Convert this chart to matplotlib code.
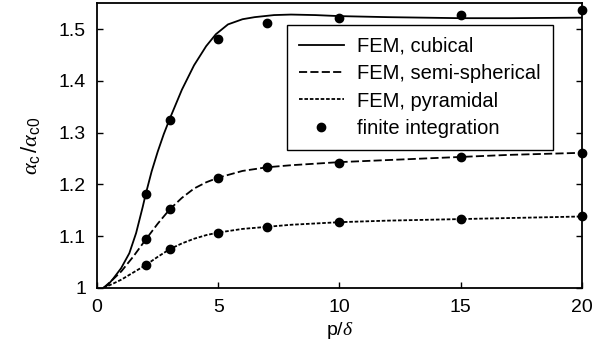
import numpy as np
import matplotlib
matplotlib.use("Agg")
import matplotlib.pyplot as plt

plt.rcParams['font.family'] = ['Liberation Sans', 'DejaVu Sans']
plt.rcParams['mathtext.fontset'] = 'custom'
plt.rcParams['mathtext.rm'] = 'Liberation Sans'
plt.rcParams['mathtext.it'] = 'Liberation Serif:italic'
plt.rcParams['mathtext.sf'] = 'Liberation Sans'

# FEM curves
p_cub = [0.26, 0.45, 0.65, 0.99, 1.33, 1.61, 1.88, 2.0, 2.25, 2.5, 2.75, 3.0, 3.5, 4.0,
         4.5, 4.9, 5.4, 6.0, 6.5, 7.3, 8.0, 9.0, 10.0, 12.0, 15.0, 17.0, 20.0]
fem_cub = [1.0, 1.006, 1.017, 1.038, 1.067, 1.106, 1.156, 1.180, 1.225, 1.263, 1.297, 1.327,
           1.383, 1.430, 1.467, 1.490, 1.509, 1.519, 1.523, 1.527, 1.528, 1.527, 1.525, 1.523,
           1.521, 1.521, 1.522]

p_fem = [0.26, 0.6, 1.0, 1.5, 2.0, 2.5, 3.0, 3.5, 4.0, 4.5, 5.0, 6.0, 7.0, 8.0, 10.0, 12.0, 15.0, 17.0, 20.0]
fem_semi = [1.0, 1.014, 1.032, 1.061, 1.093, 1.124, 1.152, 1.174, 1.192, 1.204, 1.213, 1.226, 1.233,
            1.237, 1.243, 1.247, 1.253, 1.257, 1.261]
fem_pyr = [1.0, 1.007, 1.016, 1.030, 1.044, 1.060, 1.075, 1.086, 1.095, 1.102, 1.107, 1.114, 1.118,
           1.122, 1.127, 1.130, 1.133, 1.135, 1.138]

# finite integration points
p_fi = [2, 3, 5, 7, 10, 15, 20]
fi_cub = [1.181, 1.324, 1.480, 1.511, 1.521, 1.528, 1.536]
fi_semi = [1.094, 1.152, 1.213, 1.233, 1.242, 1.253, 1.261]
fi_pyr = [1.044, 1.075, 1.107, 1.118, 1.127, 1.133, 1.138]

fig = plt.figure(figsize=(6.03, 3.52), dpi=100)
ax = fig.add_axes([0.161, 0.182, 0.804, 0.809])

ax.plot(p_cub, fem_cub, color='black', lw=1.3, label='FEM, cubical')
ax.plot(p_fem, fem_semi, color='black', lw=1.3, dashes=(4.5, 1.8), label='FEM, semi-spherical')
ax.plot(p_fem, fem_pyr, color='black', lw=1.3, dashes=(2.0, 1.0), label='FEM, pyramidal')
ax.plot(p_fi, fi_cub, 'o', color='black', ms=6, clip_on=False, label='finite integration')
ax.plot(p_fi, fi_semi, 'o', color='black', ms=6, clip_on=False)
ax.plot(p_fi, fi_pyr, 'o', color='black', ms=6, clip_on=False)

ax.set_xlim(0, 20)
ax.set_ylim(1, 1.55)
ax.set_xticks([0, 5, 10, 15, 20])
ax.set_yticks([1, 1.1, 1.2, 1.3, 1.4, 1.5])
ax.set_yticklabels(['1', '1.1', '1.2', '1.3', '1.4', '1.5'])
ax.tick_params(direction='in', length=4, width=1, labelsize=14, pad=8,
               left=True, right=True, bottom=True, top=False)
for s in ax.spines.values():
    s.set_linewidth(1.3)

ax.set_xlabel(r'p/$\delta$', fontsize=14, labelpad=3)
ax.set_ylabel(r'$\alpha_{\mathrm{c}}\,/\alpha_{\mathrm{c0}}$', fontsize=16, labelpad=12)

leg = ax.legend(loc='upper right', bbox_to_anchor=(0.94, 0.925), fontsize=14.5,
                frameon=True, fancybox=False, edgecolor='black', framealpha=1,
                handlelength=2.25, handletextpad=0.65, labelspacing=0.42,
                borderpad=0.6, borderaxespad=0.0, numpoints=1)
leg.get_frame().set_linewidth(1.0)

fig.savefig('out.png', dpi=100)
